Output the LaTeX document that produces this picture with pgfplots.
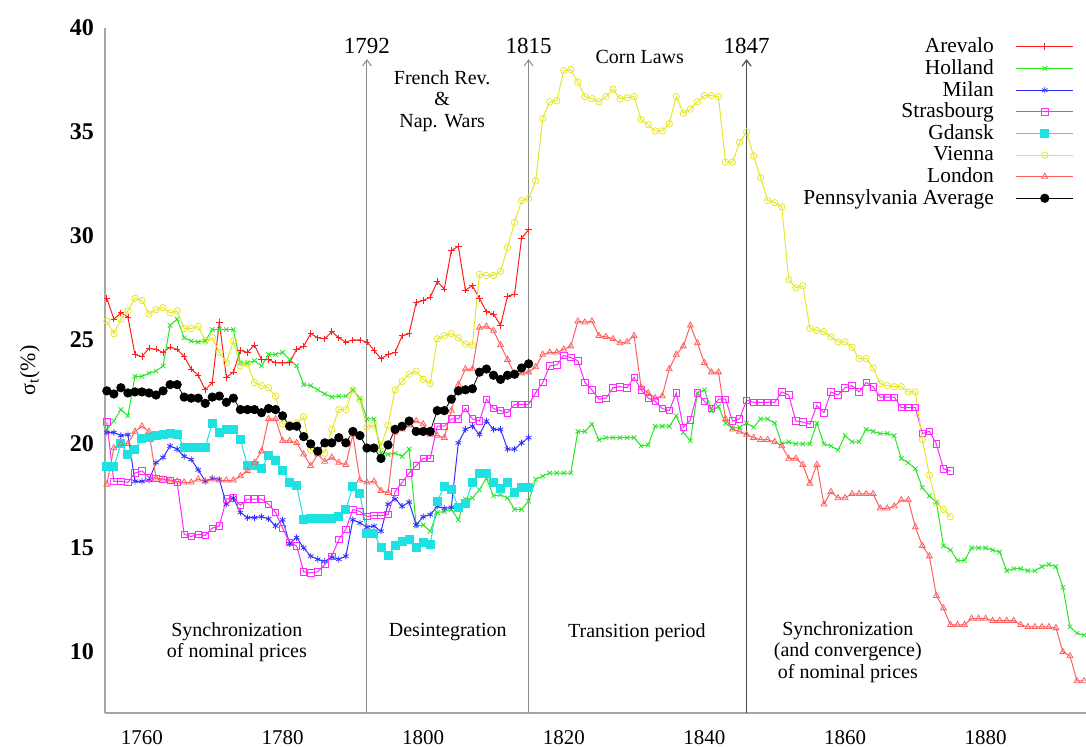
\documentclass[border=0pt]{standalone}
\usepackage{fontspec}
\setmainfont{Liberation Serif}
\usepackage{pgfplots}
\pgfplotsset{compat=1.18}
\usetikzlibrary{arrows.meta}
\definecolor{cAre}{RGB}{255,30,30}
\definecolor{cHol}{RGB}{40,230,40}
\definecolor{cMil}{RGB}{50,50,255}
\definecolor{cStr}{RGB}{255,40,255}
\definecolor{cGda}{RGB}{30,225,225}
\definecolor{cVie}{RGB}{230,230,40}
\definecolor{cLon}{RGB}{255,95,95}
\begin{document}
\begin{tikzpicture}
\path[use as bounding box] (-52.5pt,-17pt) rectangle (490.5pt,356.5pt);
\begin{axis}[
  scale only axis, width=490.5pt, height=342.5pt,
  at={(0,0)}, anchor=south west,
  xmin=1754.74, xmax=1894.28, ymin=7.06, ymax=40,
  axis x line=bottom, axis y line=left,
  axis line style={-, draw=black!35, line width=0.8pt},
  xtick={1760,1780,...,1880}, ytick={10,15,...,40},
  major tick length=0pt,
  /pgf/number format/1000 sep={},
  /pgf/number format/assume math mode=true,
  xticklabel style={font=\fontsize{10.5}{12}\selectfont, yshift=-5pt},
  yticklabel style={font=\bfseries\fontsize{12}{12}\selectfont, xshift=-2pt},
  ylabel={σ\textsubscript{t}(\%)},
  ylabel style={at={(axis description cs:-0.0765,0.5)}, anchor=center, font=\fontsize{11}{12}\selectfont},
  every axis plot/.append style={line width=0.5pt},
  legend style={at={(axis description cs:0.994,0.998)}, anchor=north east, draw=none, fill=none,
    font=\fontsize{10.7}{11}\selectfont, row sep=-2.05pt, column sep=9pt},
  legend cell align=right,
  legend plot pos=right,
  legend image code/.code={\draw[mark repeat=2,mark phase=2] plot coordinates {(0cm,0cm) (0.5cm,0cm) (1cm,0cm)};},
]
\addplot[cAre, mark=+, mark size=1.6pt, mark options={line width=0.4pt}] coordinates {
(1755,27.0)(1756,26.0)(1757,26.3)(1758,26.1)(1759,24.3)(1760,24.2)(1761,24.6)(1762,24.55)(1763,24.4)(1764,24.65)
(1765,24.55)(1766,24.2)(1767,23.6)(1768,23.3)(1769,22.6)(1770,22.95)(1771,25.85)(1772,23.2)(1773,23.45)(1774,24.5)
(1775,24.4)(1776,24.75)(1777,24.05)(1778,24.05)(1779,23.9)(1780,23.9)(1781,23.9)(1782,24.55)(1783,24.7)(1784,25.3)
(1785,25.1)(1786,25.05)(1787,25.4)(1788,25.1)(1789,24.9)(1790,25.0)(1791,25.0)(1792,24.9)(1793,24.5)(1794,24.1)
(1795,24.3)(1796,24.4)(1797,25.2)(1798,25.3)(1799,26.8)(1800,26.9)(1801,27.05)(1802,27.8)(1803,27.45)(1804,29.3)
(1805,29.5)(1806,27.4)(1807,27.6)(1808,27.0)(1809,26.35)(1810,26.25)(1811,25.7)(1812,27.1)(1813,27.2)(1814,29.9)
(1815,30.3)};
\addlegendentry{Arevalo}
\addplot[cHol, mark=x, mark size=1.6pt, mark options={line width=0.4pt}] coordinates {
(1755,20.7)(1756,21.1)(1757,21.65)(1758,21.35)(1759,23.25)(1760,23.25)(1761,23.4)(1762,23.5)(1763,23.75)(1764,25.7)
(1765,26.0)(1766,25.1)(1767,24.95)(1768,24.9)(1769,24.95)(1770,25.5)(1771,25.5)(1772,25.5)(1773,25.5)(1774,23.9)
(1775,23.9)(1776,24.0)(1777,23.75)(1778,24.3)(1779,24.3)(1780,24.4)(1781,24.05)(1782,23.75)(1783,22.85)(1784,22.8)
(1785,22.6)(1786,22.4)(1787,22.25)(1788,22.3)(1789,22.3)(1790,22.6)(1791,22.2)(1792,21.2)(1793,21.2)(1794,19.55)
(1795,19.5)(1796,19.55)(1797,19.4)(1798,19.75)(1799,16.05)(1800,16.1)(1801,15.8)(1802,16.7)(1803,16.75)(1804,16.85)
(1805,16.35)(1806,17.35)(1807,17.4)(1808,17.8)(1809,18.35)(1810,17.5)(1811,17.55)(1812,17.4)(1813,16.85)(1814,16.85)
(1815,17.25)(1816,18.3)(1817,18.45)(1818,18.6)(1819,18.6)(1820,18.6)(1821,18.6)(1822,20.6)(1823,20.6)(1824,20.95)
(1825,20.2)(1826,20.3)(1827,20.3)(1828,20.3)(1829,20.3)(1830,20.3)(1831,19.9)(1832,19.95)(1833,20.85)(1834,20.85)
(1835,20.85)(1836,21.35)(1837,20.55)(1838,20.15)(1839,22.45)(1840,22.6)(1841,21.6)(1842,21.8)(1843,21.0)(1844,20.75)
(1845,20.8)(1846,21.0)(1847,20.8)(1848,21.2)(1849,21.2)(1850,21.0)(1851,20.0)(1852,20.1)(1853,20.0)(1854,20.0)
(1855,20.0)(1856,21.0)(1857,20.0)(1858,19.9)(1859,19.7)(1860,20.4)(1861,20.1)(1862,20.1)(1863,20.7)(1864,20.6)
(1865,20.5)(1866,20.5)(1867,20.4)(1868,19.3)(1869,19.1)(1870,18.8)(1871,17.9)(1872,17.5)(1873,17.2)(1874,15.1)
(1875,14.9)(1876,14.4)(1877,14.4)(1878,15.0)(1879,15.0)(1880,15.0)(1881,14.9)(1882,14.8)(1883,13.9)(1884,14.0)
(1885,14.0)(1886,13.9)(1887,13.9)(1888,14.1)(1889,14.2)(1890,14.1)(1891,13.1)(1892,11.2)(1893,10.9)(1894,10.8)};
\addlegendentry{Holland}
\addplot[cMil, mark=asterisk, mark size=1.6pt, mark options={line width=0.4pt}] coordinates {
(1755,20.55)(1756,20.55)(1757,20.4)(1758,20.45)(1759,18.2)(1760,18.2)(1761,18.25)(1762,19.1)(1763,19.35)(1764,19.9)
(1765,19.75)(1766,19.4)(1767,19.25)(1768,18.75)(1769,18.2)(1770,18.35)(1771,18.3)(1772,17.1)(1773,17.4)(1774,16.7)
(1775,16.45)(1776,16.45)(1777,16.5)(1778,16.4)(1779,16.05)(1780,16.35)(1781,15.2)(1782,15.5)(1783,15.0)(1784,14.6)
(1785,14.45)(1786,14.35)(1787,14.55)(1788,14.45)(1789,14.6)(1790,16.35)(1791,16.2)(1792,16.0)(1793,16.05)(1794,15.8)
(1795,17.1)(1796,17.35)(1797,17.0)(1798,17.2)(1799,16.1)(1800,16.5)(1801,16.6)(1802,17.0)(1803,16.9)(1804,16.95)
(1805,20.05)(1806,20.7)(1807,20.85)(1808,20.45)(1809,21.1)(1810,20.7)(1811,20.7)(1812,19.75)(1813,19.75)(1814,20.05)
(1815,20.3)};
\addlegendentry{Milan}
\addplot[cStr, mark=square, mark size=1.6pt, mark options={line width=0.4pt}] coordinates {
(1755,21.05)(1756,18.2)(1757,18.2)(1758,18.15)(1759,18.6)(1760,18.7)(1761,18.4)(1762,18.35)(1763,18.3)(1764,18.25)
(1765,18.15)(1766,15.65)(1767,15.55)(1768,15.65)(1769,15.6)(1770,15.95)(1771,16.05)(1772,17.35)(1773,17.4)(1774,17.05)
(1775,17.35)(1776,17.35)(1777,17.35)(1778,17.1)(1779,16.7)(1780,15.95)(1781,15.25)(1782,15.1)(1783,13.85)(1784,13.8)
(1785,13.85)(1786,14.2)(1787,14.6)(1788,15.4)(1789,15.9)(1790,16.85)(1791,16.75)(1792,16.5)(1793,16.55)(1794,16.55)
(1795,16.6)(1796,17.7)(1797,18.15)(1798,18.6)(1799,18.95)(1800,19.3)(1801,19.3)(1802,20.85)(1803,20.85)(1804,21.2)
(1805,21.2)(1806,21.7)(1807,21.2)(1808,21.1)(1809,22.15)(1810,21.7)(1811,21.6)(1812,21.5)(1813,21.9)(1814,21.9)
(1815,21.9)(1816,22.45)(1817,22.95)(1818,23.75)(1819,23.8)(1820,24.25)(1821,24.15)(1822,24.0)(1823,22.95)(1824,22.6)
(1825,22.15)(1826,22.2)(1827,22.7)(1828,22.75)(1829,22.7)(1830,23.2)(1831,22.6)(1832,22.2)(1833,22.05)(1834,21.7)
(1835,21.6)(1836,22.45)(1837,20.8)(1838,21.15)(1839,22.45)(1840,22.05)(1841,21.7)(1842,22.15)(1843,22.15)(1844,21.1)
(1845,21.2)(1846,22.1)(1847,22.0)(1848,22.0)(1849,22.0)(1850,22.0)(1851,22.5)(1852,22.35)(1853,21.1)(1854,21.05)
(1855,20.95)(1856,21.85)(1857,21.5)(1858,22.5)(1859,22.35)(1860,22.7)(1861,22.8)(1862,22.5)(1863,22.95)(1864,22.75)
(1865,22.25)(1866,22.25)(1867,22.25)(1868,21.75)(1869,21.75)(1870,21.75)(1871,20.5)(1872,20.6)(1873,20.0)(1874,18.8)
(1875,18.7)};
\addlegendentry{Strasbourg}
\addplot[cGda, mark=square*, mark size=2pt] coordinates {
(1755,18.9)(1756,18.9)(1757,20.0)(1758,19.5)(1759,19.75)(1760,20.25)(1761,20.3)(1762,20.4)(1763,20.45)(1764,20.5)
(1765,20.45)(1766,19.85)(1767,19.85)(1768,19.85)(1769,19.85)(1770,21.0)(1771,20.55)(1772,20.7)(1773,20.7)(1774,20.2)
(1775,18.95)(1776,18.95)(1777,18.8)(1778,19.45)(1779,19.2)(1780,18.7)(1781,18.15)(1782,18.0)(1783,16.35)(1784,16.4)
(1785,16.4)(1786,16.4)(1787,16.4)(1788,16.5)(1789,16.85)(1790,17.95)(1791,17.6)(1792,15.7)(1793,15.7)(1794,15.0)
(1795,14.65)(1796,15.1)(1797,15.3)(1798,15.4)(1799,15.0)(1800,15.25)(1801,15.15)(1802,17.25)(1803,17.95)(1804,17.8)
(1805,16.95)(1806,17.15)(1807,18.15)(1808,18.6)(1809,18.6)(1810,18.15)(1811,17.85)(1812,18.15)(1813,17.65)(1814,17.9)
(1815,17.9)};
\addlegendentry{Gdansk}
\addplot[cVie, mark=o, mark size=1.6pt, mark options={line width=0.4pt}] coordinates {
(1755,25.9)(1756,25.3)(1757,26.0)(1758,26.4)(1759,27.0)(1760,26.9)(1761,26.25)(1762,26.45)(1763,26.55)(1764,26.3)
(1765,26.4)(1766,25.55)(1767,25.55)(1768,25.65)(1769,24.95)(1770,25.1)(1771,24.4)(1772,23.9)(1773,24.95)(1774,23.75)
(1775,23.85)(1776,22.95)(1777,22.8)(1778,22.7)(1779,22.3)(1780,20.95)(1781,20.95)(1782,21.0)(1783,21.3)(1784,19.7)
(1785,19.65)(1786,19.55)(1787,20.7)(1788,21.65)(1789,21.65)(1790,22.6)(1791,22.1)(1792,20.8)(1793,20.9)(1794,19.9)
(1795,20.9)(1796,22.6)(1797,23.0)(1798,23.35)(1799,23.5)(1800,23.1)(1801,22.9)(1802,25.05)(1803,25.2)(1804,25.3)
(1805,25.1)(1806,24.8)(1807,24.75)(1808,28.15)(1809,28.1)(1810,28.1)(1811,28.3)(1812,29.45)(1813,30.65)(1814,31.7)
(1815,31.8)(1816,32.65)(1817,35.65)(1818,36.45)(1819,36.5)(1820,37.95)(1821,38.0)(1822,37.4)(1823,36.7)(1824,36.6)
(1825,36.45)(1826,36.7)(1827,37.05)(1828,36.6)(1829,36.65)(1830,36.7)(1831,35.6)(1832,35.35)(1833,35.05)(1834,35.05)
(1835,35.4)(1836,36.7)(1837,35.9)(1838,36.1)(1839,36.45)(1840,36.75)(1841,36.75)(1842,36.7)(1843,33.55)(1844,33.55)
(1845,34.5)(1846,35.0)(1847,33.85)(1848,32.8)(1849,31.7)(1850,31.6)(1851,31.4)(1852,27.9)(1853,27.5)(1854,27.6)
(1855,25.55)(1856,25.45)(1857,25.4)(1858,25.15)(1859,24.9)(1860,24.9)(1861,24.65)(1862,24.1)(1863,24.1)(1864,23.65)
(1865,22.9)(1866,22.8)(1867,22.75)(1868,22.75)(1869,22.5)(1870,22.5)(1871,20.2)(1872,18.5)(1873,17.15)(1874,16.85)
(1875,16.5)};
\addlegendentry{Vienna}
\addplot[cLon, mark=triangle, mark size=1.7pt, mark options={line width=0.4pt}] coordinates {
(1755,18.05)(1756,19.8)(1757,20.0)(1758,20.0)(1759,20.6)(1760,20.85)(1761,20.6)(1762,18.35)(1763,18.3)(1764,18.25)
(1765,18.2)(1766,18.15)(1767,18.15)(1768,18.3)(1769,18.2)(1770,18.3)(1771,18.25)(1772,18.25)(1773,18.25)(1774,18.45)
(1775,18.7)(1776,19.1)(1777,19.65)(1778,21.2)(1779,21.2)(1780,20.15)(1781,20.15)(1782,20.05)(1783,19.5)(1784,18.95)
(1785,19.5)(1786,19.15)(1787,19.35)(1788,19.1)(1789,19.0)(1790,20.45)(1791,18.25)(1792,18.15)(1793,18.2)(1794,17.75)
(1795,17.65)(1796,20.55)(1797,20.7)(1798,20.9)(1799,21.1)(1800,20.95)(1801,20.45)(1802,20.4)(1803,20.3)(1804,21.6)
(1805,22.85)(1806,23.6)(1807,23.6)(1808,25.6)(1809,25.65)(1810,25.45)(1811,24.75)(1812,24.05)(1813,23.35)(1814,23.4)
(1815,23.45)(1816,23.7)(1817,24.3)(1818,24.4)(1819,24.4)(1820,24.55)(1821,24.7)(1822,25.9)(1823,25.85)(1824,25.9)
(1825,25.2)(1826,25.15)(1827,25.05)(1828,24.85)(1829,24.9)(1830,25.2)(1831,22.7)(1832,22.45)(1833,22.2)(1834,22.3)
(1835,23.6)(1836,24.3)(1837,24.7)(1838,25.7)(1839,24.85)(1840,23.9)(1841,23.45)(1842,23.45)(1843,21.2)(1844,20.7)
(1845,20.6)(1846,20.45)(1847,20.3)(1848,20.2)(1849,20.2)(1850,20.1)(1851,19.9)(1852,19.3)(1853,19.3)(1854,19.0)
(1855,18.1)(1856,19.0)(1857,17.1)(1858,17.7)(1859,17.4)(1860,17.4)(1861,17.6)(1862,17.6)(1863,17.6)(1864,17.6)
(1865,16.9)(1866,16.9)(1867,17.0)(1868,17.3)(1869,17.3)(1870,16.0)(1871,15.1)(1872,14.6)(1873,12.7)(1874,12.1)
(1875,11.3)(1876,11.3)(1877,11.3)(1878,11.6)(1879,11.6)(1880,11.6)(1881,11.5)(1882,11.5)(1883,11.5)(1884,11.5)
(1885,11.3)(1886,11.2)(1887,11.2)(1888,11.2)(1889,11.2)(1890,11.15)(1891,10.0)(1892,9.8)(1893,8.6)(1894,8.6)};
\addlegendentry{London}
\addplot[black, line width=0.4pt, mark=*, mark size=2.1pt] coordinates {
(1755,22.55)(1756,22.4)(1757,22.7)(1758,22.45)(1759,22.5)(1760,22.5)(1761,22.45)(1762,22.35)(1763,22.55)(1764,22.85)
(1765,22.85)(1766,22.25)(1767,22.2)(1768,22.2)(1769,21.95)(1770,22.25)(1771,22.3)(1772,22.0)(1773,22.2)(1774,21.65)
(1775,21.65)(1776,21.65)(1777,21.5)(1778,21.7)(1779,21.65)(1780,21.35)(1781,20.85)(1782,20.85)(1783,20.35)(1784,20.0)
(1785,19.65)(1786,20.05)(1787,20.05)(1788,20.3)(1789,20.05)(1790,20.6)(1791,20.4)(1792,19.8)(1793,19.8)(1794,19.3)
(1795,19.95)(1796,20.7)(1797,20.85)(1798,21.1)(1799,20.6)(1800,20.6)(1801,20.6)(1802,21.6)(1803,21.6)(1804,22.15)
(1805,22.55)(1806,22.6)(1807,22.65)(1808,23.45)(1809,23.6)(1810,23.3)(1811,23.1)(1812,23.3)(1813,23.35)(1814,23.65)
(1815,23.85)};
\addlegendentry{Pennsylvania Average}
% period markers
\draw[black!45, line width=0.5pt, -{Straight Barb[length=3pt,width=4.5pt]}] (axis cs:1792,7.06) -- (axis cs:1792,38.5);
\draw[black!45, line width=0.5pt, -{Straight Barb[length=3pt,width=4.5pt]}] (axis cs:1815,7.06) -- (axis cs:1815,38.5);
\draw[black!70, line width=0.6pt, -{Straight Barb[length=3pt,width=4.5pt]}] (axis cs:1846,7.06) -- (axis cs:1846,38.5);
\node[font=\fontsize{11.5}{12}\selectfont] at (axis cs:1792,39.15) {1792};
\node[font=\fontsize{11.5}{12}\selectfont] at (axis cs:1815,39.15) {1815};
\node[font=\fontsize{11.5}{12}\selectfont] at (axis cs:1846,39.15) {1847};
\node[font=\fontsize{10}{10.75}\selectfont, align=center] at (axis cs:1802.7,36.5) {French Rev.\\\&\\Nap. Wars};
\node[font=\fontsize{10}{10.75}\selectfont] at (axis cs:1830.8,38.6) {Corn Laws};
\node[font=\fontsize{10}{10.75}\selectfont, align=center] at (axis cs:1773.5,10.47) {Synchronization\\of nominal prices};
\node[font=\fontsize{10}{10.75}\selectfont] at (axis cs:1803.5,10.96) {Desintegration};
\node[font=\fontsize{10}{10.75}\selectfont] at (axis cs:1830.4,10.92) {Transition period};
\node[font=\fontsize{10}{10.75}\selectfont, align=center] at (axis cs:1860.4,10.0) {Synchronization\\(and convergence)\\of nominal prices};
\end{axis}
\end{tikzpicture}
\end{document}
